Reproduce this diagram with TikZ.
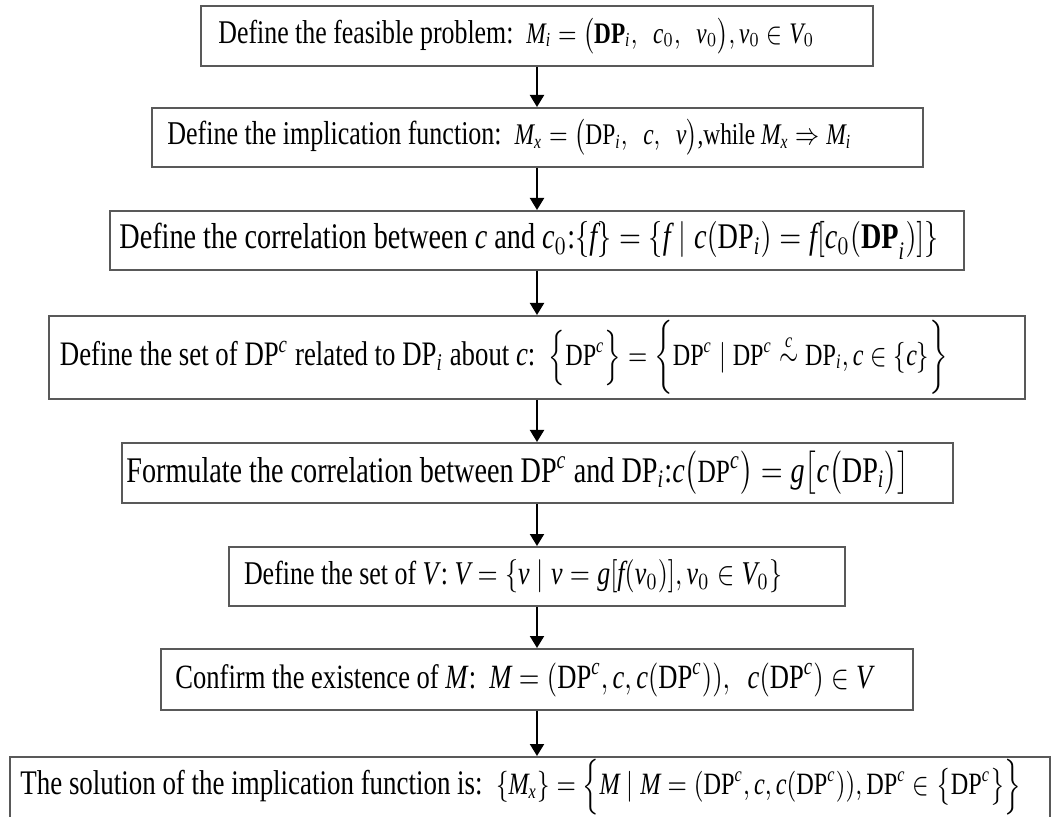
\documentclass[tikz,border=0pt]{standalone}
\usepackage{amsmath}
\usepackage{fontspec}
\setmainfont{Liberation Serif}
\usetikzlibrary{arrows.meta}
\newcommand{\mt}[1]{\mathit{#1}}
\newcommand{\DP}{\mathrm{DP}}
\newcommand{\bDP}{\mathbf{DP}}
\newcommand{\fitline}[2]{\resizebox{#1}{!}{\scalebox{1}[1.28]{#2}}}
\begin{document}
\begin{tikzpicture}[x=0.5pt,y=-0.5pt,
  box/.style={draw=black!65, line width=1pt, fill=white, inner sep=0pt, rectangle},
  lbl/.style={anchor=west, inner sep=0pt},
  arr/.style={draw=black, line width=1pt, -{Triangle[width=7pt,length=6pt]}}]
\useasboundingbox (0,0) rectangle (1053,817);
\clip (0,0) rectangle (1053,817);
% boxes
\node[box, minimum width=336pt, minimum height=30pt] (b1) at (537,36) {};
\node[box, minimum width=385.5pt, minimum height=29.5pt] (b2) at (537,137.5) {};
\node[box, minimum width=427pt, minimum height=29.5pt] (b3) at (537,240.5) {};
\node[box, minimum width=488pt, minimum height=41.5pt] (b4) at (537,357.5) {};
\node[box, minimum width=415.5pt, minimum height=30pt] (b5) at (537,473) {};
\node[box, minimum width=308pt, minimum height=29.5pt] (b6) at (537,576.5) {};
\node[box, minimum width=376pt, minimum height=30.5pt] (b7) at (537,679.5) {};
\node[box, minimum width=520pt, minimum height=50pt] (b8) at (530,807) {};
% texts
\node[lbl] (t1) at (218,36) {\fitline{298pt}{Define the feasible problem:\ \ {\small$\mt{M}_{\mt{i}} = \bigl(\bDP_{\mt{i}},\ \ \mt{c}_0,\ \ \mt{v}_0\bigr), \mt{v}_0 \in \mt{V}_0$}}};
\node[lbl] (t2) at (167,137.5) {\fitline{342pt}{Define the implication function:\ \ {\small$\mt{M}_{\mt{x}} = \bigl(\DP_{\mt{i}},\ \ \mt{c},\ \ \mt{v}\bigr)$,while $\mt{M}_{\mt{x}} \Rightarrow \mt{M}_{\mt{i}}$}}};
\node[lbl] (t3) at (119,240.5) {\fitline{409.5pt}{Define the correlation between $\mt{c}$ and $\mt{c}_0$:$\{\mt{f}\} = \{\mt{f} \mid \mt{c}(\DP_{\mt{i}}) = \mt{f}[\mt{c}_0\mathbf{(DP}_{\mt{i}}\mathbf{)}]\}$}};
\node[lbl] (t4) at (59.5,357.5) {\fitline{444pt}{Define the set of DP$^{\mt{c}}$ related to DP$_{\mt{i}}$ about \textit{c}:\ \ {\small$\Bigl\{\DP^{\mt{c}}\Bigr\} = \biggl\{\DP^{\mt{c}} \mid \DP^{\mt{c}} \overset{\mt{c}}{\sim} \DP_{\mt{i}}, \mt{c} \in \{\mt{c}\}\biggr\}$}}};
\node[lbl] (t5) at (126,473) {\fitline{391.5pt}{Formulate the correlation between DP$^{\mt{c}}$ and DP$_{\mt{i}}$:$\mt{c}\bigl(\text{\small DP}^{\mt{c}}\bigr) = \mt{g}\bigl[\mt{c}\bigl(\DP_{\mt{i}}\bigr)\bigr]$}};
\node[lbl] (t6) at (243.6,576.5) {\fitline{269pt}{Define the set of \textit{V}: $\mt{V} = \{\mt{v} \mid \mt{v} = \mt{g}[\mt{f}(\mt{v}_0)], \mt{v}_0 \in \mt{V}_0\}$}};
\node[lbl] (t7) at (175,679.5) {\fitline{348.5pt}{Confirm the existence of \textit{M}:\ \ $\mt{M} = (\DP^{\mt{c}}, \mt{c}, \mt{c}(\DP^{\mt{c}})),\ \ \mt{c}(\DP^{\mt{c}}) \in \mt{V}$}};
\node[lbl] (t8) at (20,787) {\fitline{500.5pt}{The solution of the implication function is:\ \ {\small$\{\mt{M}_{\mt{x}}\} = \Bigl\{\mt{M} \mid \mt{M} = (\DP^{\mt{c}}, \mt{c}, \mt{c}(\DP^{\mt{c}})), \DP^{\mt{c}} \in \bigl\{\DP^{\mt{c}}\bigr\}\Bigr\}$}}};
% arrows
\draw[arr] (b1.south) -- (b2.north);
\draw[arr] (b2.south) -- (b3.north);
\draw[arr] (b3.south) -- (b4.north);
\draw[arr] (b4.south) -- (b5.north);
\draw[arr] (b5.south) -- (b6.north);
\draw[arr] (b6.south) -- (b7.north);
\draw[arr] (b7.south) -- (b7.south |- b8.north);
\end{tikzpicture}
\end{document}
